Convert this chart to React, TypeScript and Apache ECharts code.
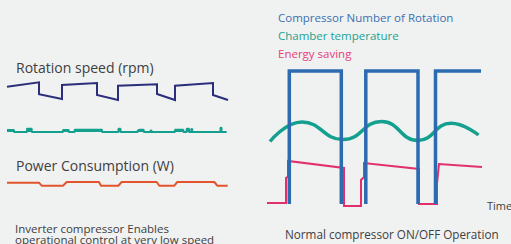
import React, { useEffect, useRef } from "react";
import * as echarts from "echarts";

// ---- Left panel (inverter compressor), time in arbitrary units ----
const rotationSpeed: [number, number][] = [
  [0, 17.3], [32, 21.7], [32, 9.7], [55, 5], [55, 19], [90, 21], [90, 9], [111, 4],
  [111, 18.3], [150, 19.7], [150, 10], [168, 4], [168, 18.3], [206, 21], [206, 9], [221, 4],
];
const inverterTemperature: [number, number][] = [
  [0, 2], [7, 2], [7, 0], [20, 0], [20, 3.3], [24.7, 3.3], [24.7, 0], [56, 0], [56, 2], [61.7, 2],
  [61.7, 0], [67.7, 0], [67.7, 2.3], [95, 2.3], [95, 0], [111.5, 0], [111.5, 3.3], [113.5, 3.3],
  [113.5, 0], [130.7, 0], [130.7, 1.5], [133, 2.3], [136.7, 2.3], [136.7, 0], [143.5, 0],
  [143.5, 1.5], [144.5, 1.5], [144.5, 0], [168, 0], [168, 2.3], [176.3, 2.3], [176.3, 0],
  [179.7, 0], [179.7, 3.3], [182, 3.3], [182, 0], [184.3, 0], [184.3, 3], [185.2, 3], [185.2, 0],
  [213.5, 0], [213.5, 4.3], [214.5, 4.3], [214.5, 0], [219.7, 0],
];
const powerConsumption: [number, number][] = [
  [0, 5.3], [32, 5.3], [34.7, 2.3], [56, 2.3], [59.7, 6], [92, 6], [94, 2.3], [111.3, 2.3],
  [114.7, 6], [149.7, 6], [152.3, 2.3], [167.3, 2.3], [170.3, 6], [207.3, 6], [210.3, 2.3], [220.7, 2.3],
];

// ---- Right panel (normal compressor ON/OFF) ----
const compressorCycles: [number, number][][] = [
  [[24.3, 6], [24.3, 139], [76.3, 139], [76.3, 6]],
  [[100.8, 6], [100.8, 139], [153, 139], [153, 6]],
  [[170.5, 6], [170.5, 139], [216, 139]],
];
const chamberTemperature: [number, number][] = [
  [5, 68.5], [37, 88], [78, 70.5], [116.5, 88.5], [153, 69.5], [186, 86.7], [213.5, 75],
];
const energySaving: [number, number][] = [
  [2, 7], [21, 7], [21, 32], [23, 33.5], [23, 49], [79, 42], [79, 4], [96, 4], [96, 30], [99, 33],
  [99, 47], [154, 41], [154, 6], [172, 6], [172, 26], [174, 46], [217, 43],
];

const legendNames = ["Compressor Number of Rotation", "Chamber temperature", "Energy saving"];
const leftLabels = ["Rotation speed (rpm)", "Power Consumption (W)"];
const captionLeft = ["Inverter compressor Enables", "operational control at very low speed"];
const captionRight = "Normal compressor ON/OFF Operation";
const timeLabel = "Time";

const FONT = "'Open Sans', sans-serif";
const GRAY = "#404040";
const BLUE = "#2c6bb0";
const TEAL = "#14a08f";
const PINK = "#e2306f";

export default function App() {
  const ref = useRef<HTMLDivElement>(null);
  useEffect(() => {
    if (!ref.current) return;
    const chart = echarts.init(ref.current, null, { renderer: "svg" });
    const hiddenX = (max: number, gridIndex: number) => ({
      type: "value", gridIndex, min: 0, max, show: false,
    });
    const hiddenY = (max: number, gridIndex: number) => ({
      type: "value", gridIndex, min: 0, max, show: false,
    });
    const base = { type: "line", symbol: "none", clip: false, silent: true };
    const text = (t: string, x: number, y: number, size: number, extra: any = {}) => ({
      type: "text",
      x,
      y,
      silent: true,
      style: { text: t, fill: GRAY, fontSize: size, fontFamily: FONT, verticalAlign: "middle", ...extra },
    });
    chart.setOption({
      animation: false,
      backgroundColor: "#f0f1f1",
      grid: [
        { left: 7, width: 222, top: 78, height: 26 },
        { left: 7, width: 222, top: 124, height: 8 },
        { left: 7, width: 222, top: 178, height: 10 },
        { left: 265, width: 220, top: 60, height: 150 },
      ],
      xAxis: [hiddenX(222, 0), hiddenX(222, 1), hiddenX(222, 2), hiddenX(220, 3)],
      yAxis: [hiddenY(26, 0), hiddenY(8, 1), hiddenY(10, 2), hiddenY(150, 3)],
      legend: {
        orient: "vertical",
        left: 268,
        top: 6,
        icon: "none",
        itemWidth: 0,
        itemHeight: 12,
        itemGap: 6,
        selectedMode: false,
        textStyle: { fontFamily: FONT, fontSize: 11.5 },
        data: [
          { name: legendNames[0], textStyle: { color: "#3a70b0" } },
          { name: legendNames[1], textStyle: { color: "#1aa392" } },
          { name: legendNames[2], textStyle: { color: "#e4407a" } },
        ],
      },
      series: [
        { ...base, name: "rotation", xAxisIndex: 0, yAxisIndex: 0, data: rotationSpeed,
          lineStyle: { color: "#2b2e7a", width: 2, join: "miter" } },
        { ...base, name: "inverterTemp", xAxisIndex: 1, yAxisIndex: 1, data: inverterTemperature,
          lineStyle: { color: TEAL, width: 2 }, areaStyle: { color: TEAL, opacity: 1 } },
        { ...base, name: "power", xAxisIndex: 2, yAxisIndex: 2, data: powerConsumption,
          lineStyle: { color: "#e4542c", width: 2 } },
        { ...base, name: legendNames[1], xAxisIndex: 3, yAxisIndex: 3, data: chamberTemperature,
          smooth: true, itemStyle: { color: TEAL }, lineStyle: { color: TEAL, width: 3.5 }, z: 2 },
        { ...base, name: legendNames[2], xAxisIndex: 3, yAxisIndex: 3, data: energySaving,
          itemStyle: { color: PINK }, lineStyle: { color: PINK, width: 2, join: "miter" }, z: 3 },
        ...compressorCycles.map((seg) => ({
          ...base, name: legendNames[0], xAxisIndex: 3, yAxisIndex: 3, data: seg,
          itemStyle: { color: BLUE }, lineStyle: { color: BLUE, width: 3.5, join: "miter" }, z: 4,
        })),
      ],
      graphic: [
        text(leftLabels[0], 16, 67.5, 14),
        text(leftLabels[1], 16, 165, 14),
        text(captionLeft.join("\n"), 15, 234, 11.5, { lineHeight: 11 }),
        text(captionRight, 285, 233.5, 11.7),
        text(timeLabel, 487, 205.5, 11),
      ],
    });
    return () => chart.dispose();
  }, []);
  return (
    <div
      ref={ref}
      style={{ position: "absolute", left: 0, top: 0, width: 511, height: 244 }}
    />
  );
}
